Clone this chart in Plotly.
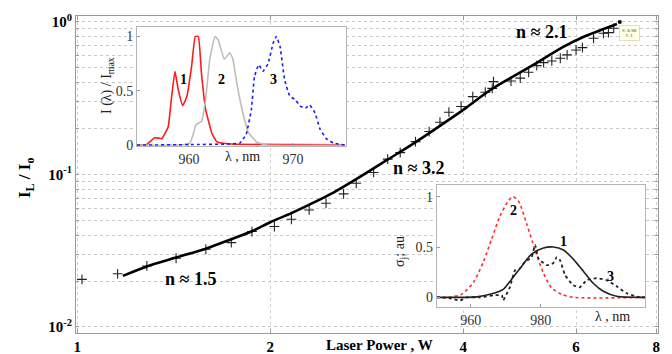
import plotly.graph_objects as go

# ---------------- data ----------------
# main plot: measured points (crosses)
power_meas = [1.017, 1.156, 1.284, 1.426, 1.587, 1.739, 1.873, 2.03, 2.158, 2.30,
              2.444, 2.603, 2.724, 2.90, 3.05, 3.19, 3.37, 3.54, 3.68, 3.80,
              3.97, 4.14, 4.33, 4.44, 4.46, 4.75, 4.91, 5.06, 5.21, 5.34,
              5.50, 5.67, 5.81, 6.00, 6.14, 6.39, 6.62, 6.74, 6.87]
ratio_meas = [0.0205, 0.0223, 0.0251, 0.0282, 0.0323, 0.0357, 0.0422, 0.0455, 0.0508, 0.0585,
              0.0647, 0.0745, 0.0875, 0.103, 0.126, 0.139, 0.164, 0.191, 0.220, 0.256,
              0.279, 0.324, 0.346, 0.367, 0.406, 0.41, 0.428, 0.468, 0.517, 0.541,
              0.555, 0.578, 0.608, 0.655, 0.679, 0.782, 0.843, 0.851, 0.909]

# main plot: fitted curve
fit_power = [1.178, 1.284, 1.426, 1.587, 1.739, 1.873, 2.0, 2.158, 2.31, 2.51, 2.724,
             3.04, 3.35, 3.55, 4.0, 4.41, 5.09, 5.74, 6.17, 6.95]
fit_ratio = [0.0216, 0.0249, 0.0285, 0.0326, 0.0376, 0.0424, 0.0486, 0.0557, 0.0638, 0.076, 0.093,
             0.124, 0.160, 0.188, 0.265, 0.358, 0.509, 0.689, 0.80, 0.97]

# data tip point
tip_power = [7.02]
tip_ratio = [1.0]

# inset 1: normalised emission spectra
spec1_wl = [955.0, 955.9, 956.7, 957.1, 957.4, 958.0, 958.3, 958.65, 958.97, 959.4, 959.8,
            960.25, 960.6, 960.9, 961.2, 961.6, 962.2, 962.7, 964.0, 970.0, 975.0]
spec1_i = [0.0, 0.005, 0.068, 0.065, 0.06, 0.17, 0.42, 0.68, 0.51, 0.364, 0.45,
           0.725, 1.0, 1.0, 0.66, 0.33, 0.11, 0.03, 0.01, 0.005, 0.003]

spec2_wl = [955.0, 959.1, 960.1, 960.7, 961.2, 961.6, 962.0, 962.5, 962.8, 963.4, 963.9,
            964.2, 964.6, 965.1, 965.7, 966.5, 967.5, 975.0]
spec2_i = [0.0, 0.0, 0.02, 0.19, 0.22, 0.42, 0.79, 1.0, 0.97, 0.79, 0.85,
           0.8, 0.57, 0.33, 0.12, 0.03, 0.0, 0.0]

spec3_wl = [955.0, 960.0, 963.6, 964.9, 965.5, 966.0, 966.3, 966.7, 967.1, 967.6, 968.1,
            968.4, 968.75, 969.2, 969.7, 970.2, 970.7, 971.2, 971.6, 972.1, 972.6,
            973.2, 973.9, 975.0]
spec3_i = [0.0, 0.005, 0.01, 0.02, 0.1, 0.33, 0.63, 0.74, 0.68, 0.75, 0.94,
           1.0, 0.91, 0.6, 0.45, 0.42, 0.36, 0.34, 0.37, 0.3, 0.15,
           0.06, 0.02, 0.0]

# inset 2: cross sections
sig2_wl = [950.3, 954.6, 957.4, 960.8, 963.6, 966.0, 968.4, 970.8, 972.0, 973.6, 976.0,
           978.4, 980.8, 983.2, 986.0, 989.3, 1009.8]
sig2_v = [0.0, 0.005, 0.03, 0.15, 0.35, 0.58, 0.81, 0.96, 1.0, 0.96, 0.73,
          0.47, 0.24, 0.09, 0.03, 0.0, 0.0]

sig1_wl = [950.3, 961.7, 965.5, 969.3, 971.7, 974.6, 977.4, 980.8, 983.6, 986.5, 989.3,
           992.2, 995.0, 997.9, 1001.7, 1009.8]
sig1_v = [0.0, 0.005, 0.03, 0.08, 0.18, 0.31, 0.43, 0.49, 0.5, 0.47, 0.38,
          0.26, 0.14, 0.06, 0.01, 0.0]

sig3_wl = [950.3, 951.2, 954.1, 957.0, 958.9, 962.7, 966.5, 968.9, 969.3, 969.8, 971.2,
           972.7, 974.1, 975.5, 977.4, 978.4, 979.3, 979.8, 981.7, 983.6, 984.6,
           985.5, 987.0, 989.3, 991.2, 993.1, 996.0, 998.9, 1001.7, 1004.6, 1008.4, 1009.8]
sig3_v = [0.0, 0.0, -0.01, -0.03, 0.0, 0.0, 0.02, 0.02, -0.03, 0.0, 0.1,
          0.27, 0.29, 0.35, 0.40, 0.52, 0.39, 0.37, 0.32, 0.34, 0.40,
          0.37, 0.22, 0.12, 0.10, 0.17, 0.19, 0.17, 0.11, 0.04, 0.0, 0.0]

# axis ranges / ticks
x_main_range = [-0.002, 0.906]      # log10 units
y_main_range = [-2.04, 0.039]       # log10 units
x_main_ticks = [1, 2, 4, 6, 8]
y_major = [0.01, 0.1, 1]
y_major_text = ["10<sup>-2</sup>", "10<sup>-1</sup>", "10<sup>0</sup>"]

in1_xrange = [955, 975.1]
in1_yrange = [-0.005, 1.09]
in2_xrange = [950.3, 1009.8]
in2_yrange = [-0.093, 1.116]

FONT = "Liberation Serif"

# pixel -> paper helpers (plot area: x 76..658, y 16..333)
def PX(x):
    return (x - 76) / 582.0

def PY(y):
    return (333 - y) / 317.0

# y ticks: majors + minors (grid lines)
y_tickvals, y_ticktext = [], []
for dec, lab in zip(y_major, y_major_text):
    for m in range(1, 10):
        v = dec * m
        if v > 1.05:
            continue
        y_tickvals.append(v)
        y_ticktext.append("<b>" + lab + "</b>" if m == 1 else " ")

fig = go.Figure()

# ---- main traces ----
fig.add_trace(go.Scatter(x=power_meas, y=ratio_meas, mode="markers",
                         marker=dict(symbol="cross-thin", size=7,
                                     line=dict(color="#222", width=1.1)),
                         xaxis="x", yaxis="y", showlegend=False))
fig.add_trace(go.Scatter(x=fit_power, y=fit_ratio, mode="lines",
                         line=dict(color="black", width=2.6, shape="spline", smoothing=0.8),
                         xaxis="x", yaxis="y", showlegend=False))
fig.add_trace(go.Scatter(x=tip_power, y=tip_ratio, mode="markers",
                         marker=dict(color="black", size=4),
                         xaxis="x", yaxis="y", showlegend=False))

# ---- inset 1 traces ----
fig.add_trace(go.Scatter(x=spec1_wl, y=spec1_i, mode="lines",
                         line=dict(color="#ff1a1a", width=1.6, shape="spline", smoothing=0.35),
                         xaxis="x2", yaxis="y2", showlegend=False))
fig.add_trace(go.Scatter(x=spec2_wl, y=spec2_i, mode="lines",
                         line=dict(color="#bdbdbd", width=1.6, shape="spline", smoothing=0.35),
                         xaxis="x2", yaxis="y2", showlegend=False))
fig.add_trace(go.Scatter(x=spec3_wl, y=spec3_i, mode="lines",
                         line=dict(color="#1a1aff", width=1.6, dash="dot", shape="spline", smoothing=0.35),
                         xaxis="x2", yaxis="y2", showlegend=False))

# ---- inset 2 traces ----
fig.add_trace(go.Scatter(x=sig2_wl, y=sig2_v, mode="lines",
                         line=dict(color="#ff2a2a", width=1.6, dash="dot", shape="spline", smoothing=0.7),
                         xaxis="x3", yaxis="y3", showlegend=False))
fig.add_trace(go.Scatter(x=sig1_wl, y=sig1_v, mode="lines",
                         line=dict(color="#222", width=1.6, shape="spline", smoothing=0.7),
                         xaxis="x3", yaxis="y3", showlegend=False))
fig.add_trace(go.Scatter(x=sig3_wl, y=sig3_v, mode="lines",
                         line=dict(color="#222", width=1.8, dash="dot", shape="spline", smoothing=0.5),
                         xaxis="x3", yaxis="y3", showlegend=False))

# inset white backgrounds (drawn in the inset subplot layer, above main grid)
fig.add_shape(type="rect", xref="x2", yref="y2", layer="below",
              x0=in1_xrange[0], x1=in1_xrange[1], y0=in1_yrange[0], y1=in1_yrange[1],
              fillcolor="white", line=dict(width=0))
fig.add_shape(type="rect", xref="x3", yref="y3", layer="below",
              x0=in2_xrange[0], x1=in2_xrange[1], y0=in2_yrange[0], y1=in2_yrange[1],
              fillcolor="white", line=dict(width=0))

inset_axis = dict(showline=True, linecolor="#b5b5b5", linewidth=1, mirror=True,
                  ticks="inside", ticklen=3, tickcolor="#999", showgrid=False, zeroline=False,
                  automargin=False,
                  tickfont=dict(family=FONT, size=14, color="#333"))

fig.update_layout(
    width=672, height=354,
    margin=dict(l=76, r=14, t=16, b=21, autoexpand=False),
    paper_bgcolor="white", plot_bgcolor="white",
    font=dict(family=FONT, color="black"),
    xaxis=dict(type="log", range=x_main_range, domain=[0, 1], automargin=False,
               tickvals=x_main_ticks, ticktext=["<b>%d</b>" % v for v in x_main_ticks],
               tickfont=dict(family=FONT, size=15, color="black"),
               showline=True, linecolor="#9a9a9a", linewidth=1, mirror="ticks",
               ticks="inside", ticklen=4, tickcolor="#9a9a9a",
               showgrid=True, gridcolor="#cfcfcf", griddash="dot", gridwidth=1,
               zeroline=False, anchor="y"),
    yaxis=dict(type="log", range=y_main_range, domain=[0, 1], automargin=False,
               tickvals=y_tickvals, ticktext=y_ticktext,
               tickfont=dict(family=FONT, size=15, color="black"),
               showline=True, linecolor="#9a9a9a", linewidth=1, mirror="ticks",
               ticks="inside", ticklen=3, tickcolor="#9a9a9a",
               showgrid=True, gridcolor="#c8c8c8", griddash="dot", gridwidth=1,
               zeroline=False, anchor="x"),
    xaxis2=dict(inset_axis, range=in1_xrange, domain=[PX(137), PX(346)],
                tickvals=[960, 970], anchor="y2"),
    yaxis2=dict(inset_axis, range=in1_yrange, domain=[PY(145.7), PY(26.7)],
                tickvals=[0, 0.5, 1], ticktext=["0", "0.5", "1"], anchor="x2"),
    xaxis3=dict(inset_axis, range=in2_xrange, domain=[PX(436.7), PX(645)],
                tickvals=[960, 980], anchor="y3"),
    yaxis3=dict(inset_axis, range=in2_yrange, domain=[PY(306.7), PY(185)],
                tickvals=[0, 0.5, 1], ticktext=["0", "0.5", "1"], anchor="x3"),
)

ann = []
def add_text(text, x, y, size, bold=False, angle=0, color="black", **kw):
    t = "<b>%s</b>" % text if bold else text
    ann.append(dict(text=t, x=PX(x), y=PY(y), xref="paper", yref="paper",
                    showarrow=False, textangle=angle, xanchor="center", yanchor="middle",
                    font=dict(family=FONT, size=size, color=color), **kw))

# main labels
add_text("I<sub>L</sub> / I<sub>o</sub>", 26, 178, 17, bold=True, angle=-90)
add_text("Laser Power , W", 379, 345, 15, bold=True)
add_text("n ≈ 1.5", 190, 279, 18, bold=True)
add_text("n ≈ 3.2", 418, 168, 18, bold=True)
add_text("n ≈ 2.1", 541, 32, 18, bold=True)

# inset 1 labels
add_text("I (λ) / I<sub>max</sub>", 108, 86, 14, angle=-90, color="#222")
add_text("λ , nm", 242, 156, 14, color="#222")
add_text("1", 183, 79, 14, bold=True)
add_text("2", 221, 79, 14, bold=True)
add_text("3", 273, 79, 14, bold=True)

# inset 2 labels
add_text("σ<sub>j</sub>; au", 400, 252, 14, angle=-90, color="#222")
add_text("λ , nm", 612, 316, 14, color="#222")
add_text("2", 513, 211, 14, bold=True)
add_text("1", 563, 241, 14, bold=True)
add_text("3", 610, 276, 14, bold=True)

# data tip box
ann.append(dict(text="X: 6.98<br>Y: 1", x=PX(629.5), y=PY(33), xref="paper", yref="paper",
                showarrow=False, xanchor="center", yanchor="middle",
                font=dict(family="DejaVu Sans", size=4, color="#555"),
                bgcolor="#ffffe6", bordercolor="#e0e0c0", borderwidth=1, borderpad=2))

fig.update_layout(annotations=ann)

fig.write_html("out.html")
